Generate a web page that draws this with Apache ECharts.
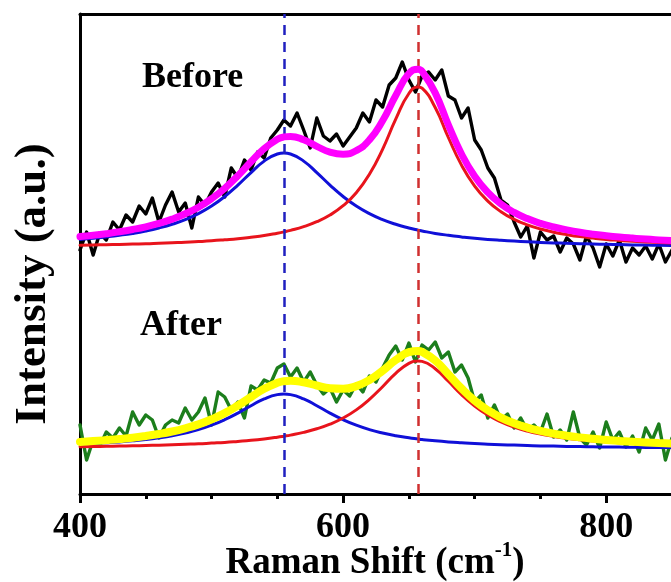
<!DOCTYPE html>
<html>
<head>
<meta charset="utf-8">
<script src="https://cdn.jsdelivr.net/npm/echarts@6/dist/echarts.min.js"></script>
<style>
html,body{margin:0;padding:0;background:#fff;}
#chart{width:671px;height:582px;}
</style>
</head>
<body>
<div id="chart"></div>
<script>
// Raman shift sample positions for measured spectra (cm^-1)
const ramanShift = [400,405,410,415,420,425,430,435,440,445,450,455,460,465,470,475,480,485,490,495,500,505,510,515,520,525,530,535,540,545,550,555,560,565,570,575,580,585,590,595,600,605,610,615,620,625,630,635,640,645,650,655,660,665,670,675,680,685,690,695,700,705,710,715,720,725,730,735,740,745,750,755,760,765,770,775,780,785,790,795,800,805,810,815,820,825,830,835,840,845,850];
// Measured spectra (a.u.)
const beforeRaw = [244,262,239,261,254,272,264,279,272,288,280,296,272,289,302,282,291,266,297,289,302,311,297,326,316,334,324,342,336,356,364,374,368,381,364,346,376,358,353,360,348,357,366,381,372,394,387,409,416,432,414,402,418,422,414,424,398,394,376,386,354,344,326,316,294,289,272,257,268,236,262,254,258,242,256,250,234,258,246,227,250,238,254,232,246,239,248,235,250,232,244];
const afterRaw = [69,34,54,48,62,56,66,58,82,69,79,74,56,69,74,71,86,74,82,96,69,102,97,84,92,76,108,104,114,111,126,130,117,126,112,122,109,100,106,92,104,98,110,102,118,112,126,139,148,134,151,132,149,144,152,136,142,122,129,116,92,99,76,89,74,80,66,76,64,69,62,80,57,64,54,82,56,49,62,46,72,54,62,47,58,42,66,54,70,34,56];
// Fit curve sample positions (cm^-1)
const fitShift = [400,410,420,430,440,450,460,470,480,490,500,510,520,530,540,550,555,560,570,580,590,600,610,620,630,640,650,657,660,670,680,690,700,710,720,730,740,750,760,770,780,790,800,810,820,830,840,850];
const beforePeak1 = [254.6,255.7,257.1,258.7,260.6,263.0,266.0,269.7,274.4,280.4,288.0,297.5,308.9,321.4,332.9,340.0,341.0,340.0,332.9,321.4,308.9,297.5,288.0,280.4,274.4,269.7,266.0,263.8,263.0,260.6,258.7,257.1,255.7,254.6,253.7,252.9,252.2,251.6,251.1,250.7,250.3,250.0,249.7,249.4,249.1,248.9,248.7,248.6];
const beforePeak2 = [248.8,249.0,249.3,249.5,249.9,250.2,250.7,251.2,251.7,252.4,253.2,254.2,255.3,256.8,258.5,260.8,262.1,263.6,267.3,272.3,279.0,288.3,301.3,319.7,344.7,374.8,400.5,407.0,405.8,386.5,356.5,328.9,307.9,292.9,282.3,274.7,269.1,265.0,261.8,259.4,257.4,255.9,254.6,253.6,252.7,252.0,251.4,250.9];
const beforeFit = [257.4,258.7,260.3,262.2,264.5,267.2,270.6,274.9,280.2,286.8,295.3,305.7,318.3,332.2,345.4,354.8,357.1,357.6,354.2,347.7,341.9,339.8,343.4,354.1,373.2,398.5,420.4,424.8,422.7,401.1,369.1,340.0,317.7,301.6,290.0,281.6,275.4,270.6,267.0,264.1,261.7,259.8,258.3,257.0,255.9,254.9,254.1,253.4];
const afterPeak1 = [49.8,50.4,51.2,52.1,53.2,54.5,56.2,58.3,61.0,64.4,68.8,74.3,80.9,88.3,95.1,99.4,100.0,99.4,95.1,88.3,80.9,74.3,68.8,64.4,61.0,58.3,56.2,55.0,54.5,53.2,52.1,51.2,50.4,49.8,49.3,48.9,48.5,48.1,47.9,47.6,47.4,47.2,47.0,46.9,46.8,46.6,46.5,46.4];
const afterPeak2 = [47.3,47.5,47.7,47.9,48.2,48.5,48.8,49.2,49.7,50.2,50.9,51.6,52.6,53.7,55.1,56.8,57.8,58.9,61.6,65.2,69.8,76.0,84.1,94.6,107.3,120.6,130.6,133.0,132.6,125.3,112.7,99.4,88.0,79.0,72.1,66.9,62.9,59.9,57.6,55.7,54.2,53.0,52.0,51.2,50.5,49.9,49.4,49.0];
const afterFit = [52.1,52.9,53.9,55.0,56.3,58.0,60.0,62.5,65.7,69.6,74.7,80.9,88.5,97.0,105.2,111.2,112.8,113.3,111.7,108.5,105.7,105.2,107.9,114.0,123.3,133.9,141.8,143.0,142.1,133.5,119.8,105.6,93.4,83.8,76.4,70.7,66.4,63.1,60.4,58.3,56.6,55.2,54.0,53.1,52.2,51.5,50.9,50.4];
// Peak center reference lines (cm^-1)
const peakCenters = [555, 657];
const xTicks = [400, 600, 800];

const pair = (xs, ys) => xs.map((x, i) => [x, ys[i]]);
const FONT = "'Liberation Serif','Times New Roman',serif";

const chart = echarts.init(document.getElementById('chart'), null, {renderer: 'canvas'});

function lineSeries(name, xs, ys, color, width, smooth, z) {
  return {
    name: name, type: 'line', data: pair(xs, ys), showSymbol: false, symbol: 'none',
    smooth: smooth, z: z, silent: true,
    lineStyle: {color: color, width: width, join: 'round', cap: 'round'}
  };
}

const option = {
  animation: false,
  backgroundColor: '#ffffff',
  grid: {left: 80, top: 14, width: 592, height: 480, containLabel: false, outerBoundsMode: 'none'},
  xAxis: [{
    type: 'value', min: 400, max: 850, interval: 200, position: 'bottom',
    axisLine: {show: true, onZero: false, lineStyle: {color: '#000', width: 3}},
    axisTick: {show: true, inside: false, length: 9, lineStyle: {color: '#000', width: 3}},
    minorTick: {show: true, splitNumber: 4, length: 5, lineStyle: {color: '#000', width: 3}},
    axisLabel: {
      show: true, margin: 16, color: '#000', fontFamily: FONT, fontWeight: 'bold', fontSize: 36,
      formatter: v => (xTicks.indexOf(v) >= 0 ? String(v) : '')
    },
    splitLine: {show: false}
  }, {
    type: 'value', min: 400, max: 850, position: 'top',
    axisLine: {show: true, onZero: false, lineStyle: {color: '#000', width: 3}},
    axisTick: {show: false}, axisLabel: {show: false}, splitLine: {show: false}
  }],
  yAxis: {
    type: 'value', min: 0, max: 480,
    axisLine: {show: true, onZero: false, lineStyle: {color: '#000', width: 3}},
    axisTick: {show: false}, axisLabel: {show: false}, splitLine: {show: false}
  },
  series: [
    lineSeries('Before data', ramanShift, beforeRaw, '#000000', 3.4, false, 2),
    lineSeries('Before peak 1', fitShift, beforePeak1, '#1010d8', 3, true, 3),
    lineSeries('Before peak 2', fitShift, beforePeak2, '#e8141c', 3, true, 4),
    lineSeries('Before fit', fitShift, beforeFit, '#ff00ff', 7, true, 5),
    lineSeries('After data', ramanShift, afterRaw, '#1c7e1c', 3.4, false, 2),
    lineSeries('After peak 1', fitShift, afterPeak1, '#1010d8', 3, true, 3),
    lineSeries('After peak 2', fitShift, afterPeak2, '#e8141c', 3, true, 4),
    lineSeries('After fit', fitShift, afterFit, '#ffff00', 8, true, 5),
    {
      name: 'Peak centers', type: 'line', data: [], silent: true, z: 6,
      markLine: {
        silent: true, symbol: ['none', 'none'], label: {show: false},
        data: [
          {xAxis: peakCenters[0], lineStyle: {color: '#2020c0', width: 2.5, type: [10, 7]}},
          {xAxis: peakCenters[1], lineStyle: {color: '#d03030', width: 2.5, type: [10, 7]}}
        ]
      }
    }
  ],
  graphic: [
    {type: 'text', left: 142, top: 60, silent: true,
     style: {text: 'Before', fill: '#000', font: "bold 36px " + FONT}},
    {type: 'text', left: 140, top: 308, silent: true,
     style: {text: 'After', fill: '#000', font: "bold 36px " + FONT}},
    {type: 'text', x: 33, y: 284, rotation: Math.PI / 2, silent: true,
     style: {text: 'Intensity (a.u.)', fill: '#000', font: "bold 45px " + FONT, align: 'center', verticalAlign: 'middle'}},
    {type: 'text', x: 375, y: 561, silent: true,
     style: {
       text: '{t|Raman Shift (cm}{s|-1}{t|)}', align: 'center', verticalAlign: 'middle',
       rich: {
         t: {fontFamily: FONT, fontWeight: 'bold', fontSize: 37, fill: '#000', verticalAlign: 'bottom', lineHeight: 42},
         s: {fontFamily: FONT, fontWeight: 'bold', fontSize: 21, fill: '#000', verticalAlign: 'top', lineHeight: 42, padding: [0, 0, 23, 0]}
       }
     }}
  ]
};
chart.setOption(option);
</script>
</body>
</html>
